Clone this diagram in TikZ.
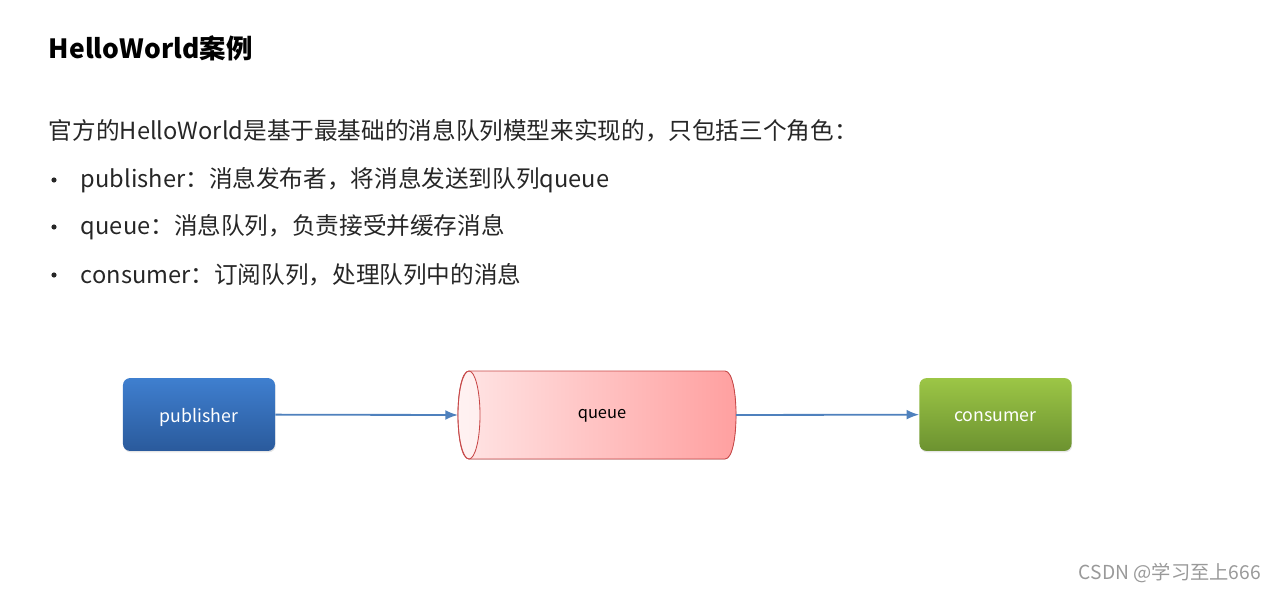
\documentclass[tikz,border=0pt]{standalone}
\usepackage{fontspec}
\setmainfont{Noto Sans CJK SC}
\usetikzlibrary{positioning,shadows,arrows.meta}
\definecolor{arrowblue}{HTML}{4F81BD}
\definecolor{pubtop}{HTML}{3F7FCF}
\definecolor{pubbot}{HTML}{2A5A9C}
\definecolor{contop}{HTML}{9CC646}
\definecolor{conbot}{HTML}{6C9230}
\definecolor{qleft}{HTML}{FFE6E6}
\definecolor{qright}{HTML}{FF9F9F}
\definecolor{qline}{HTML}{C84848}
\tikzset{>={Latex[length=9pt,width=7pt]},
	rolebox/.style={rounded corners=5pt, minimum width=3.8cm, minimum height=1.82cm,
		text=white, font=\fontsize{12.6}{15}\selectfont,
		drop shadow={opacity=0.2, shadow xshift=0.5pt, shadow yshift=-1pt}},
	flow/.style={->, arrowblue, line width=1.3pt},
	bodytext/.style={anchor=west, font=\fontsize{16.8}{20}\selectfont, text=black!85}}

\begin{document}
\begin{tikzpicture}[x=0.025cm, y=-0.025cm]
	\useasboundingbox (0,0) rectangle (1280,591);
	% title and text
	\node[anchor=west, font=\fontsize{18.8}{22}\selectfont\bfseries] (title) at (44,48) {HelloWorld案例};
	\node[bodytext] (intro) at (44,131) {官方的HelloWorld是基于最基础的消息队列模型来实现的，只包括三个角色：};
	\foreach \y/\txt [count=\i] in {180/publisher：消息发布者，将消息发送到队列queue,
		227/queue：消息队列，负责接受并缓存消息,
		275/consumer：订阅队列，处理队列中的消息} {
		\fill[black!85] (54,\y) circle (2.6);
		\node[bodytext] (item\i) at (76,\y) {\txt};
	}
	% roles
	\node[rolebox, top color=pubtop, bottom color=pubbot] (publisher) at (199,414.5) {};
	\node[rolebox, top color=contop, bottom color=conbot] (consumer) at (995.5,414.5) {};
	\node[text=white, font=\fontsize{12.6}{15}\selectfont] (publabel) at (199,417) {publisher};
	\node[text=white, font=\fontsize{12.6}{15}\selectfont] (conlabel) at (995.5,417) {consumer};
	% the queue
	\fill[left color=qleft, right color=qright, draw=qline, line width=0.6pt]
		(469,371) -- (725,371) .. controls (739.7,371) and (739.7,459) .. (725,459)
		-- (469,459) .. controls (454.3,459) and (454.3,371) .. (469,371) -- cycle;
	\draw[qline, line width=0.6pt, fill=white, fill opacity=0.5] (469,415) ellipse[x radius=11, y radius=44];
	\node[font=\fontsize{11.7}{14}\selectfont] (queue) at (602,416) {queue};
	\coordinate (qin) at (458,415);
	\coordinate (qout) at (736,415);
	\draw[flow] (publisher) -- (qin);
	\draw[flow] (qout) -- (consumer);
	% watermark
	\node[anchor=east, text=black!40, font=\fontsize{13.7}{16}\selectfont] (mark) at (1266,573) {CSDN @学习至上666};
\end{tikzpicture}
\end{document}
